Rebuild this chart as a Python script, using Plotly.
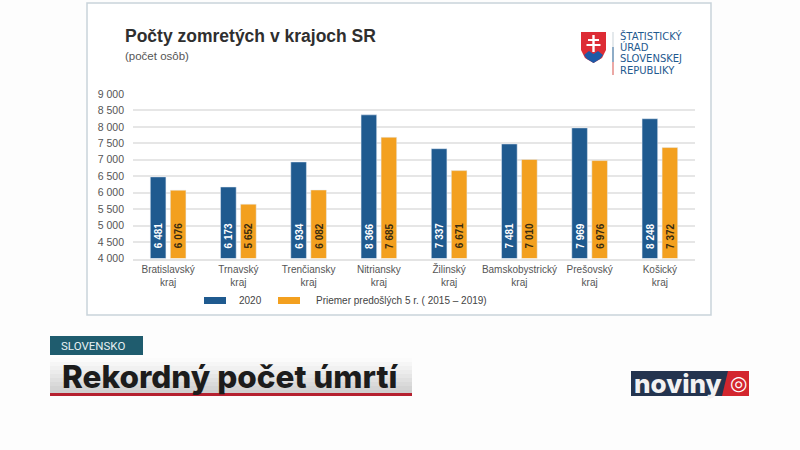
import plotly.graph_objects as go

regions = ["Bratislavský<br>kraj", "Trnavský<br>kraj", "Trenčiansky<br>kraj", "Nitriansky<br>kraj",
           "Žilinský<br>kraj", "Bamskobystrický<br>kraj", "Prešovský<br>kraj", "Košický<br>kraj"]
values_2020 = [6481, 6173, 6934, 8366, 7337, 7481, 7969, 8248]
values_avg = [6076, 5652, 6082, 7685, 6671, 7010, 6976, 7372]
y_ticks = [4000, 4500, 5000, 5500, 6000, 6500, 7000, 7500, 8000, 8500, 9000]
AXIS_FLOOR = 4000

W, H = 800, 450
FONT = "Liberation Sans"
BLUE = "#1f5a8f"
ORANGE = "#f3a01f"


def fmt(v):
    return f"{v:,}".replace(",", " ")


def px(x):
    return x / W


def py(y):
    return 1 - y / H


def rect(x0, y0, x1, y1, fill, line=None, lw=0, layer="below"):
    return dict(type="rect", xref="paper", yref="paper", x0=px(x0), x1=px(x1), y0=py(y0), y1=py(y1),
                fillcolor=fill, line=dict(color=line or fill, width=lw), layer=layer)


def label(x, y, text, size, color, anchor="left", family=FONT, weight=None):
    f = dict(family=family, size=size, color=color)
    if weight:
        f["weight"] = weight
    return dict(xref="paper", yref="paper", x=px(x), y=py(y), text=text, showarrow=False,
                xanchor=anchor, yanchor="middle", font=f, align="left", borderpad=0, borderwidth=0)


def poly(points, fill):
    path = "M " + " L ".join(f"{px(a)},{py(b)}" for a, b in points) + " Z"
    return dict(type="path", xref="paper", yref="paper", path=path, fillcolor=fill, line=dict(width=0))


def bar_labels(values, xshift, color):
    return [dict(xref="x", yref="y", x=r, y=AXIS_FLOOR, text=f"<b>{fmt(v)}</b>", textangle=-90, showarrow=False,
                 xshift=xshift, yshift=9, yanchor="bottom", xanchor="center", borderpad=0,
                 font=dict(family=FONT, size=10, color=color))
            for r, v in zip(regions, values)]


fig = go.Figure()
fig.add_bar(x=regions, y=[v - AXIS_FLOOR for v in values_2020], base=AXIS_FLOOR, name="2020", marker_color=BLUE)
fig.add_bar(x=regions, y=[v - AXIS_FLOOR for v in values_avg], base=AXIS_FLOOR,
            name="Priemer predošlých 5 r. ( 2015 – 2019)", marker_color=ORANGE)

shapes = [
    rect(87, 3, 711, 315, "#ffffff", "#c9d3da", 1.5),
    rect(204, 297, 226, 304, BLUE),
    rect(278, 297, 300, 304, ORANGE),
    rect(50, 336, 143, 355, "#1f5c6e"),
]
greys = ["#fbfbfb", "#f6f6f6", "#f1f1f1", "#ececec", "#e6e6e6", "#e0e0e0", "#dadada", "#d4d4d4", "#cecece"]
for i, g in enumerate(greys):
    shapes.append(rect(50, 358 + i * 4, 412, 362 + i * 4, g))
shapes.append(rect(50, 393, 412, 396, "#b5202f"))
shapes.append(rect(631, 371, 749, 396, "#24344f"))
shapes.append(poly([(728, 371), (749, 371), (749, 396), (722, 396)], "#d3262e"))
# Slovak emblem
shapes.append(poly([(581, 32), (606, 32), (606, 50), (602, 58), (593.5, 63), (585, 58), (581, 50)], "#dd2c35"))
shapes.append(poly([(584, 55), (589, 51), (593.5, 54), (598, 51), (603, 55), (600, 59), (593.5, 63), (587, 59)], "#1d5aa6"))
shapes.append(rect(592.3, 35, 594.7, 52, "#ffffff", layer="above"))
shapes.append(rect(588, 39, 599, 41, "#ffffff", layer="above"))
shapes.append(rect(586.5, 44, 600.5, 46, "#ffffff", layer="above"))
shapes.append(rect(612.5, 32, 613.5, 47, "#c9d3da", layer="above"))
shapes.append(rect(612.5, 47, 613.5, 62, "#1f5a8f", layer="above"))
shapes.append(rect(612.5, 62, 613.5, 75, "#d8534c", layer="above"))

annotations = [
    label(125, 36, "<b>Počty zomretých v krajoch SR</b>", 17.5, "#2f2f2f"),
    label(125, 56, "(počet osôb)", 11.5, "#555555"),
    label(239, 300.5, "2020", 10, "#444444"),
    label(316, 300.5, "Priemer predošlých 5 r. ( 2015 – 2019)", 10, "#444444"),
    label(620, 35.5, "ŠTATISTICKÝ", 10, "#1f5a8f", family="DejaVu Sans"),
    label(620, 47, "ÚRAD", 10, "#1f5a8f", family="DejaVu Sans"),
    label(620, 58.5, "SLOVENSKEJ", 10, "#1f5a8f", family="DejaVu Sans"),
    label(620, 70, "REPUBLIKY", 10, "#1f5a8f", family="DejaVu Sans"),
    label(61, 345.5, "SLOVENSKO", 11.5, "#e6f0f2", family="Roboto"),
    label(62, 376, "Rekordný počet úmrtí", 31.5, "#1c1c1c", family="Inter", weight=800),
    label(634, 383.5, "noviny", 26, "#f2f2f2", family="Inter", weight=800),
    label(738.5, 382.5, "◎", 20, "#ffffff", anchor="center", family="DejaVu Sans"),
] + bar_labels(values_2020, -10, "#ffffff") + bar_labels(values_avg, 10, "#3a2c10")

fig.update_layout(
    width=W, height=H, autosize=False,
    margin=dict(l=0, r=0, t=0, b=0),
    paper_bgcolor="#fdfdfd", plot_bgcolor="rgba(0,0,0,0)",
    barmode="group", bargap=0.43, bargroupgap=0.22,
    showlegend=False,
    font=dict(family=FONT, color="#555555"),
    xaxis=dict(domain=[px(133), px(695)], tickfont=dict(size=10, color="#555555"), showgrid=False,
               showline=True, linecolor="#e4e4e4", linewidth=1.5, ticks="", tickangle=0, anchor="y",
               automargin=False, ticklabelstandoff=1),
    yaxis=dict(domain=[py(258.5), py(94)], range=[4000, 9000], tickvals=y_ticks, ticktext=[fmt(v) for v in y_ticks],
               tickfont=dict(size=10.5, color="#555555"), gridcolor="#e6e6e6", gridwidth=1.5, zeroline=False,
               ticks="", automargin=False, ticklabelstandoff=8),
    shapes=shapes, annotations=annotations,
)
fig.write_html("out.html", config={"displayModeBar": False},
               post_script="document.body.style.margin='0';document.documentElement.style.background='#fdfdfd';")
